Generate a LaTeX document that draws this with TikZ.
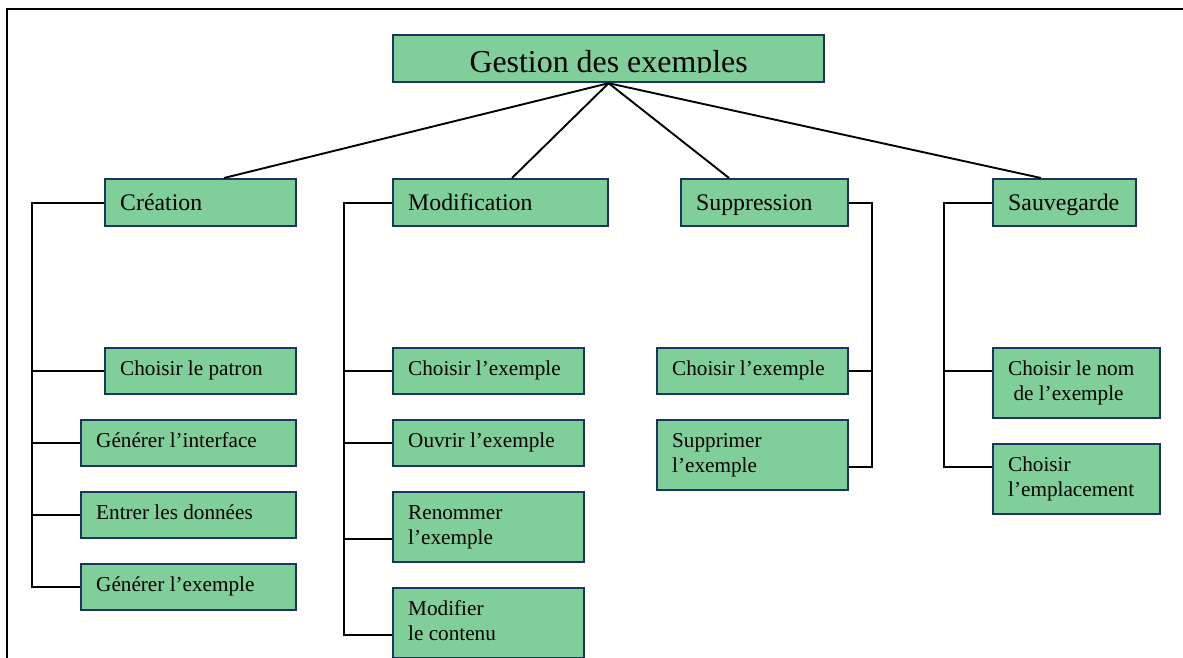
\documentclass[tikz,border=0pt]{standalone}
\usepackage{fontspec}
\setmainfont{Liberation Serif}
\definecolor{boxfill}{RGB}{128,206,154}
\definecolor{boxline}{RGB}{28,52,98}
% fixed ascent for the first line of every task label
\newcommand\tskstrut{\rule{0pt}{20pt}}
\tikzset{
  box/.style={draw=boxline, line width=2.2pt, fill=boxfill, inner sep=0pt, anchor=north west},
  wire/.style={line width=1.9pt, black},
  frameline/.style={line width=2pt, black},
  headtxt/.style={font=\fontsize{31.9}{36}\selectfont, anchor=base, inner sep=0pt},
  cattxt/.style={font=\fontsize{23.8}{28}\selectfont, anchor=base west, inner sep=0pt, xshift=16pt},
  leaftxt/.style={font=\fontsize{21.2}{25}\selectfont, align=left, anchor=north west,
    inner sep=0pt, xshift=16pt, yshift=-8.5pt},
}
\begin{document}
\begin{tikzpicture}[x=1pt, y=-1pt]
\useasboundingbox (0,0) rectangle (1183,658);
\clip (0,0) rectangle (1183,658);

% page frame
\draw[frameline] (7.3,680) -- (7.3,9.3) -- (1200,9.3);

% root
\node[box, minimum width=431pt, minimum height=47pt] (head) at (392,34) {};
\begin{scope}
  \clip (392,34) rectangle (825,73);
  \node[headtxt] (headT) at ([yshift=11pt]head.south) {Gestion des exemples};
\end{scope}

% categories
\node[box, minimum width=191pt, minimum height=47pt] (cre) at (104,178) {};
\node[box, minimum width=215pt, minimum height=47pt] (mod) at (392,178) {};
\node[box, minimum width=167pt, minimum height=47pt] (sup) at (680,178) {};
\node[box, minimum width=143pt, minimum height=47pt] (sav) at (992,178) {};
\node[cattxt] (creT) at ([yshift=-7.8pt]cre.west) {Création};
\node[cattxt] (modT) at ([yshift=-7.8pt]mod.west) {Modification};
\node[cattxt] (supT) at ([yshift=-7.8pt]sup.west) {Suppression};
\node[cattxt] (savT) at ([yshift=-7.8pt]sav.west) {Sauvegarde};

% tasks: creation
\node[box, minimum width=191pt, minimum height=46pt] (pat) at (104,347) {};
\node[box, minimum width=215pt, minimum height=46pt] (gif) at (80,419) {};
\node[box, minimum width=215pt, minimum height=46pt] (ent) at (80,491) {};
\node[box, minimum width=215pt, minimum height=46pt] (gex) at (80,563) {};
% tasks: modification
\node[box, minimum width=191pt, minimum height=46pt] (mch) at (392,347) {};
\node[box, minimum width=191pt, minimum height=46pt] (ouv) at (392,419) {};
\node[box, minimum width=191pt, minimum height=70pt] (ren) at (392,491) {};
\node[box, minimum width=191pt, minimum height=70pt] (mco) at (392,587) {};
% tasks: suppression
\node[box, minimum width=191pt, minimum height=46pt] (sch) at (656,347) {};
\node[box, minimum width=191pt, minimum height=70pt] (sdl) at (656,419) {};
% tasks: sauvegarde
\node[box, minimum width=167pt, minimum height=70pt] (snm) at (992,347) {};
\node[box, minimum width=167pt, minimum height=70pt] (sem) at (992,443) {};

\node[leaftxt] (patT) at (pat.north west) {\tskstrut Choisir le patron};
\node[leaftxt] (gifT) at (gif.north west) {\tskstrut Générer l’interface};
\node[leaftxt] (entT) at (ent.north west) {\tskstrut Entrer les données};
\node[leaftxt] (gexT) at (gex.north west) {\tskstrut Générer l’exemple};
\node[leaftxt] (mchT) at (mch.north west) {\tskstrut Choisir l’exemple};
\node[leaftxt] (ouvT) at (ouv.north west) {\tskstrut Ouvrir l’exemple};
\node[leaftxt] (renT) at (ren.north west) {\tskstrut Renommer\\l’exemple};
\node[leaftxt] (mcoT) at (mco.north west) {\tskstrut Modifier\\le contenu};
\node[leaftxt] (schT) at (sch.north west) {\tskstrut Choisir l’exemple};
\node[leaftxt] (sdlT) at (sdl.north west) {\tskstrut Supprimer\\l’exemple};
\node[leaftxt] (snmT) at (snm.north west) {\tskstrut Choisir le nom\\\hspace*{0.25em}de l’exemple};
\node[leaftxt] (semT) at (sem.north west) {\tskstrut Choisir\\l’emplacement};

% root to categories
\draw[wire] (head.south) -- ([xshift=120pt]cre.north west);
\draw[wire] (head.south) -- ([xshift=120pt]mod.north west);
\draw[wire] (head.south) -- ([xshift=49pt]sup.north west);
\draw[wire] (head.south) -- ([xshift=49pt]sav.north west);

% creation bus
\coordinate (creBus) at ([xshift=-72pt]cre.west);
\draw[wire] (cre.west) -- (creBus) |- (gex.west);
\foreach \n in {pat,gif,ent} \draw[wire] (creBus |- \n.west) -- (\n.west);

% modification bus
\coordinate (modBus) at ([xshift=-48pt]mod.west);
\coordinate (renIn) at ([yshift=-12pt]ren.west);
\coordinate (mcoIn) at ([yshift=-12pt]mco.west);
\draw[wire] (mod.west) -- (modBus) |- (mcoIn);
\foreach \n in {mch.west,ouv.west,renIn} \draw[wire] (modBus |- \n) -- (\n);

% suppression bus
\coordinate (supBus) at ([xshift=23pt]sup.east);
\coordinate (sdlIn) at ([yshift=-12pt]sdl.east);
\draw[wire] (sup.east) -- (supBus) |- (sdlIn);
\draw[wire] (supBus |- sch.east) -- (sch.east);

% sauvegarde bus
\coordinate (savBus) at ([xshift=-48pt]sav.west);
\coordinate (snmIn) at ([yshift=12pt]snm.west);
\coordinate (semIn) at ([yshift=12pt]sem.west);
\draw[wire] (sav.west) -- (savBus) |- (semIn);
\draw[wire] (savBus |- snmIn) -- (snmIn);
\end{tikzpicture}
\end{document}
